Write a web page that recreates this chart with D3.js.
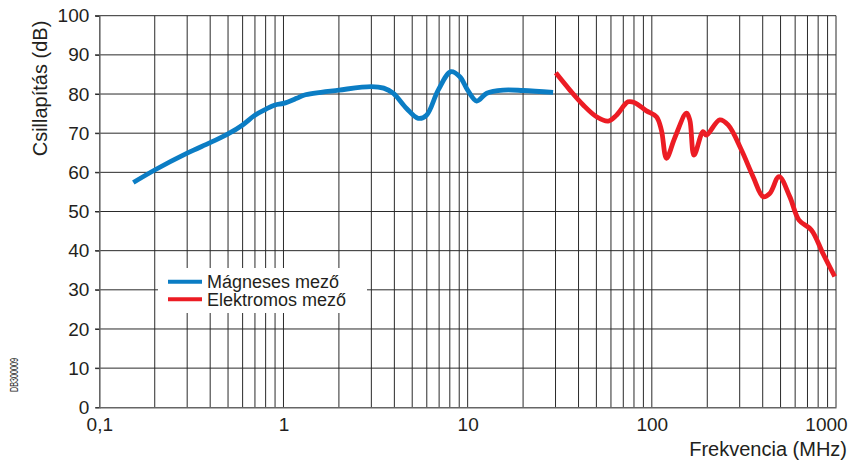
<!DOCTYPE html>
<html>
<head>
<meta charset="utf-8">
<script src="https://cdn.jsdelivr.net/npm/d3@7"></script>
<style>
  html, body { margin: 0; padding: 0; background: #fff; }
  svg { display: block; font-family: "Liberation Sans", Arial, sans-serif; }
</style>
</head>
<body>
<svg id="chart" width="866" height="461"></svg>
<script>
// ---- data ----
const magFreq = [0.153, 0.2, 0.3, 0.4, 0.5, 0.6, 0.7, 0.8, 0.9, 1.0, 1.18, 1.29, 2, 3, 3.5, 3.94, 4.66, 5.39, 5.98, 6.92, 8.11, 9.07, 10.0, 11.2, 12.7, 15.6, 20, 29.1];
const magDb   = [57.4, 60.6, 64.9, 67.6, 69.8, 72.1, 74.6, 76.1, 77.2, 77.6, 78.9, 79.7, 81.0, 81.9, 81.5, 80.2, 76.3, 73.8, 74.6, 81.0, 85.7, 84.4, 81.0, 78.2, 80.2, 81.0, 80.9, 80.4];
const elFreq  = [30.1, 35.9, 42.4, 50.1, 57.9, 64.3, 74.3, 80.7, 93.5, 105.9, 112.7, 120.1, 133, 154, 160.7, 169.5, 189.7, 197.8, 233.6, 259.5, 306.6, 354.7, 402, 436.7, 490.6, 561, 629.5, 734.8, 849, 984];
const elDb    = [85.4, 81.0, 77.2, 74.2, 73.1, 74.6, 78.0, 77.8, 75.7, 74.2, 70.8, 63.6, 68.7, 75.1, 73.4, 64.4, 70.4, 69.5, 73.4, 72.1, 65.7, 58.9, 53.8, 54.6, 58.9, 53.8, 47.8, 45.3, 39.3, 33.4];
const seriesNames = ["Mágneses mező", "Elektromos mező"];
const xTickValues = [0.1, 1, 10, 100, 1000];
const xTickLabels = ["0,1", "1", "10", "100", "1000"];
const yTickValues = [0, 10, 20, 30, 40, 50, 60, 70, 80, 90, 100];
const yTitle = "Csillapítás (dB)";
const xTitle = "Frekvencia (MHz)";
const docCode = "DB300009";

// ---- layout ----
const svg = d3.select("#chart");
const x = d3.scaleLog().domain([0.1, 1000]).range([99.3, 836]);
const y = d3.scaleLinear().domain([0, 100]).range([407.3, 15.7]);
const blue = "#0b7dc4", red = "#ec1c24";

// minor vertical grid (2..9 each decade)
const minor = [];
[0.1, 1, 10, 100].forEach(d => { for (let k = 2; k <= 9; k++) minor.push(d * k); });
const gridColor = "#2a2a2a";

const grid = svg.append("g");
grid.selectAll("line.v").data(minor.concat([1, 10, 100, 1000])).join("line")
  .attr("x1", d => x(d)).attr("x2", d => x(d))
  .attr("y1", y(100)).attr("y2", y(0))
  .attr("stroke", gridColor).attr("stroke-width", 1);
grid.selectAll("line.h").data(yTickValues.slice(1)).join("line")
  .attr("x1", 95).attr("x2", x(1000))
  .attr("y1", d => y(d)).attr("y2", d => y(d))
  .attr("stroke", gridColor).attr("stroke-width", 1);

// axes
const yAxis = d3.axisLeft(y).tickValues(yTickValues).tickSize(4).tickPadding(6).tickFormat(d3.format("d"));
const gy = svg.append("g").attr("transform", `translate(${x(0.1)},0)`).call(yAxis);
gy.select(".domain").attr("stroke", "#666").attr("stroke-width", 1.6);
gy.selectAll(".tick line").attr("stroke", gridColor);
gy.selectAll(".tick text").attr("font-size", 19).attr("fill", "#231f20")
  .attr("font-family", "Liberation Sans, Arial, sans-serif");

const xAxis = d3.axisBottom(x).tickValues(xTickValues).tickSize(0).tickPadding(10)
  .tickFormat((d, i) => xTickLabels[i]);
const gx = svg.append("g").attr("transform", `translate(0,${y(0)})`).call(xAxis);
gx.select(".domain").attr("stroke", "#666").attr("stroke-width", 1.6);
gx.selectAll(".tick text").attr("font-size", 19).attr("fill", "#231f20")
  .attr("font-family", "Liberation Sans, Arial, sans-serif");
gx.selectAll(".tick text").filter((d, i) => i === xTickValues.length - 1).attr("dx", -10);

// legend box (covers grid)
const lg = svg.append("g");
lg.append("rect").attr("x", 158).attr("y", 268).attr("width", 209).attr("height", 45).attr("fill", "#fff");

// curves
const line = d3.line().x(d => x(d[0])).y(d => y(d[1])).curve(d3.curveCatmullRom.alpha(0.5));
svg.append("path").datum(magFreq.map((f, i) => [f, magDb[i]]))
  .attr("d", line).attr("fill", "none").attr("stroke", blue).attr("stroke-width", 4.8)
  .attr("stroke-linejoin", "round");
svg.append("path").datum(elFreq.map((f, i) => [f, elDb[i]]))
  .attr("d", line).attr("fill", "none").attr("stroke", red).attr("stroke-width", 4.8)
  .attr("stroke-linejoin", "round");

// legend entries
[blue, red].forEach((c, i) => {
  const yy = 281.7 + i * 17.6;
  lg.append("line").attr("x1", 168).attr("x2", 202).attr("y1", yy).attr("y2", yy)
    .attr("stroke", c).attr("stroke-width", 4);
  lg.append("text").attr("x", 207).attr("y", yy).attr("dy", "0.36em")
    .attr("font-size", 18).attr("fill", "#231f20").text(seriesNames[i]);
});

// titles
svg.append("text").attr("transform", "translate(46.5,88.5) rotate(-90)")
  .attr("text-anchor", "middle").attr("font-size", 20).attr("fill", "#231f20").text(yTitle);
svg.append("text").attr("x", 847).attr("y", 456).attr("text-anchor", "end")
  .attr("font-size", 20).attr("fill", "#231f20").text(xTitle);
svg.append("text").attr("transform", "translate(17.5,375) rotate(-90)")
  .attr("text-anchor", "middle").attr("font-size", 10).attr("fill", "#222")
  .attr("textLength", 34).attr("lengthAdjust", "spacingAndGlyphs").text(docCode);
</script>
</body>
</html>
